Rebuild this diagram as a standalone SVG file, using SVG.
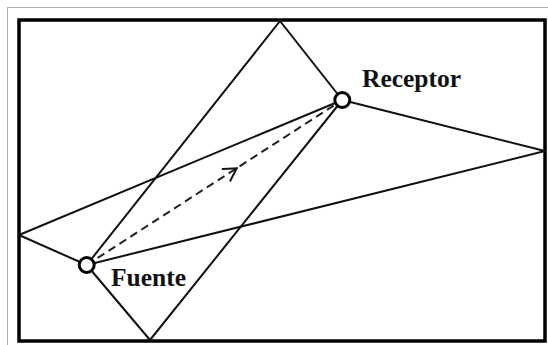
<svg xmlns="http://www.w3.org/2000/svg" width="548" height="345" viewBox="0 0 548 345">
<style>
.edge{stroke:#111;stroke-width:2;fill:none;stroke-linecap:round}
.dash{stroke:#222;stroke-width:2;fill:none;stroke-dasharray:8 5}
.node{fill:#fff;stroke:#000;stroke-width:3}
.lbl{font-family:"Liberation Serif","Times New Roman",serif;font-weight:bold;font-size:25.5px;fill:#111}
</style>
<rect x="0" y="0" width="548" height="345" fill="#fff"/>
<rect x="7.5" y="7.5" width="600" height="400" fill="none" stroke="#b0b0b0" stroke-width="1"/>
<rect x="19" y="20" width="526" height="321" fill="#fff" stroke="#000" stroke-width="3.5"/>
<g id="connectors">
<path class="edge" d="M280,21 L86.7,265"/>
<path class="edge" d="M280,21 L342.3,100"/>
<path class="edge" d="M342.3,100 L545,151"/>
<path class="edge" d="M545,151 L86.7,265"/>
<path class="edge" d="M19,235 L342.3,100"/>
<path class="edge" d="M19,235 L86.7,265"/>
<path class="edge" d="M342.3,100 L150,340"/>
<path class="edge" d="M86.7,265 L150,340"/>
<path class="dash" d="M86.7,265 L342.3,100"/>
<path class="edge" d="M222.7,169 L236.7,168.3 L230.3,180.7"/>
</g>
<g id="receptor">
<circle class="node" cx="342.3" cy="100" r="7.5"/>
<text class="lbl" x="362" y="87">Receptor</text>
</g>
<g id="fuente">
<circle class="node" cx="86.7" cy="265" r="7.5"/>
<text class="lbl" x="111" y="286">Fuente</text>
</g>
</svg>
